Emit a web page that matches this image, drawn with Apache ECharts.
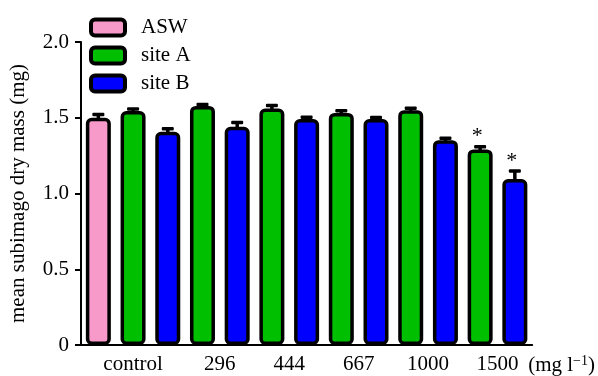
<!DOCTYPE html>
<html>
<head>
<meta charset="utf-8">
<script src="https://cdn.jsdelivr.net/npm/echarts@6/dist/echarts.min.js"></script>
<style>
  html, body { margin: 0; padding: 0; background: #fff; }
  #chart { width: 598px; height: 376px; }
</style>
</head>
<body>
<div id="chart"></div>
<script>
// Mean subimago dry mass (mg) by treatment concentration
const concentrations = ['control', '296', '444', '667', '1000', '1500'];
const unitLabel = '(mg l{sup|\u22121})';

const aswMean = [1.50];
const aswErr = [0.021];

const siteAMean = [1.544, 1.578, 1.561, 1.532, 1.550, 1.291];
const siteAErr  = [0.013, 0.010, 0.020, 0.015, 0.012, 0.018];
const siteASig  = [false, false, false, false, false, true];

const siteBMean = [1.407, 1.440, 1.491, 1.491, 1.352, 1.095];
const siteBErr  = [0.021, 0.028, 0.012, 0.010, 0.012, 0.054];
const siteBSig  = [false, false, false, false, false, true];

const yTicks = [0, 0.5, 1.0, 1.5, 2.0];

const colors = { asw: '#f799c9', siteA: '#00bf00', siteB: '#0000ff' };
const FONT = "'Liberation Serif', 'Times New Roman', serif";

// Slot layout: ASW first, then site A / site B pairs per concentration
const nSlots = 1 + concentrations.length * 2;
const slotNames = [];
for (let i = 0; i < nSlots; i++) slotNames.push('s' + i);

const aswData = slotNames.map(() => '-');
const siteAData = slotNames.map(() => '-');
const siteBData = slotNames.map(() => '-');
const errData = [];

aswData[0] = aswMean[0];
errData.push([0, aswMean[0], aswErr[0], 0]);
concentrations.forEach((c, i) => {
  const a = 1 + 2 * i, b = 2 + 2 * i;
  siteAData[a] = siteAMean[i];
  siteBData[b] = siteBMean[i];
  errData.push([a, siteAMean[i], siteAErr[i], siteASig[i] ? 1 : 0]);
  errData.push([b, siteBMean[i], siteBErr[i], siteBSig[i] ? 1 : 0]);
});

// Group-label axis: 27 evenly spaced points, labels at group centres
const labelPoints = new Array(nSlots * 2 + 1).fill('');
concentrations.forEach((c, i) => {
  const pos = i === 0 ? 3 : 4 * i + 4;
  labelPoints[pos] = c;
});

const BAR_W = 25;
const BORDER = 3.5;

function barSeries(name, data, color) {
  return {
    name: name,
    type: 'bar',
    data: data,
    barWidth: BAR_W,
    barGap: '-100%',
    itemStyle: { color: color, borderColor: '#000', borderWidth: BORDER, borderRadius: 4 },
    z: 2
  };
}

const chart = echarts.init(document.getElementById('chart'), null, { renderer: 'canvas' });

chart.setOption({
  animation: false,
  backgroundColor: '#fff',
  textStyle: { fontFamily: FONT, color: '#000' },
  grid: { left: 78, right: 61, top: 42, bottom: 31, containLabel: false },
  legend: {
    data: ['ASW', 'site A', 'site B'],
    orient: 'vertical',
    left: 84,
    top: 12,
    icon: 'roundRect',
    itemWidth: 34,
    itemHeight: 16,
    itemGap: 7,
    itemStyle: { borderColor: '#000', borderWidth: 4 },
    textStyle: { fontFamily: FONT, fontSize: 21, color: '#000', padding: [0, 0, 0, 11] }
  },
  xAxis: [
    {
      type: 'category',
      data: slotNames,
      axisLine: { show: true, lineStyle: { color: '#000', width: 2 } },
      axisTick: { show: false },
      axisLabel: { show: false }
    },
    {
      type: 'category',
      data: labelPoints,
      boundaryGap: false,
      position: 'bottom',
      axisLine: { show: false },
      axisTick: { show: false },
      axisLabel: { interval: 0, fontFamily: FONT, fontSize: 21, color: '#000', margin: 9 },
      name: unitLabel,
      nameLocation: 'end',
      nameGap: -4,
      nameTextStyle: {
        fontFamily: FONT, fontSize: 21, color: '#000',
        align: 'left', verticalAlign: 'top', padding: [9, 0, 0, 0],
        rich: { sup: { fontFamily: FONT, fontSize: 14, verticalAlign: 'top', padding: [0, 0, 8, 0], color: '#000' } }
      }
    }
  ],
  yAxis: {
    type: 'value',
    min: yTicks[0],
    max: yTicks[yTicks.length - 1],
    interval: 0.5,
    name: 'mean subimago dry mass (mg)',
    nameLocation: 'middle',
    nameGap: 52,
    nameTextStyle: { fontFamily: FONT, fontSize: 21, color: '#000' },
    axisLine: { show: true, lineStyle: { color: '#000', width: 2 } },
    axisTick: { show: true, length: 6, lineStyle: { color: '#000', width: 2 } },
    splitLine: { show: false },
    axisLabel: {
      fontFamily: FONT, fontSize: 21, color: '#000', margin: 12,
      formatter: v => (v === 0 ? '0' : v.toFixed(1))
    }
  },
  series: [
    barSeries('ASW', aswData, colors.asw),
    barSeries('site A', siteAData, colors.siteA),
    barSeries('site B', siteBData, colors.siteB),
    {
      name: 'error',
      type: 'custom',
      data: errData,
      z: 5,
      renderItem: function (params, api) {
        const idx = api.value(0);
        const mean = api.value(1);
        const err = api.value(2);
        const star = api.value(3);
        const top = api.coord([idx, mean + err]);
        const base = api.coord([idx, mean]);
        const children = [
          { type: 'rect', shape: { x: top[0] - 1.75, y: top[1], width: 3.5, height: base[1] - top[1] + 2 }, style: { fill: '#000' } },
          { type: 'rect', shape: { x: top[0] - 6, y: top[1] - 1.75, width: 12, height: 3.5, r: 1 }, style: { fill: '#000' } }
        ];
        if (star) {
          children.push({
            type: 'text',
            style: { text: '*', x: top[0] - 3, y: top[1] + 1, fontFamily: FONT, fontSize: 22, fill: '#000', align: 'center', verticalAlign: 'bottom' }
          });
        }
        return { type: 'group', children: children };
      }
    }
  ]
});
</script>
</body>
</html>
